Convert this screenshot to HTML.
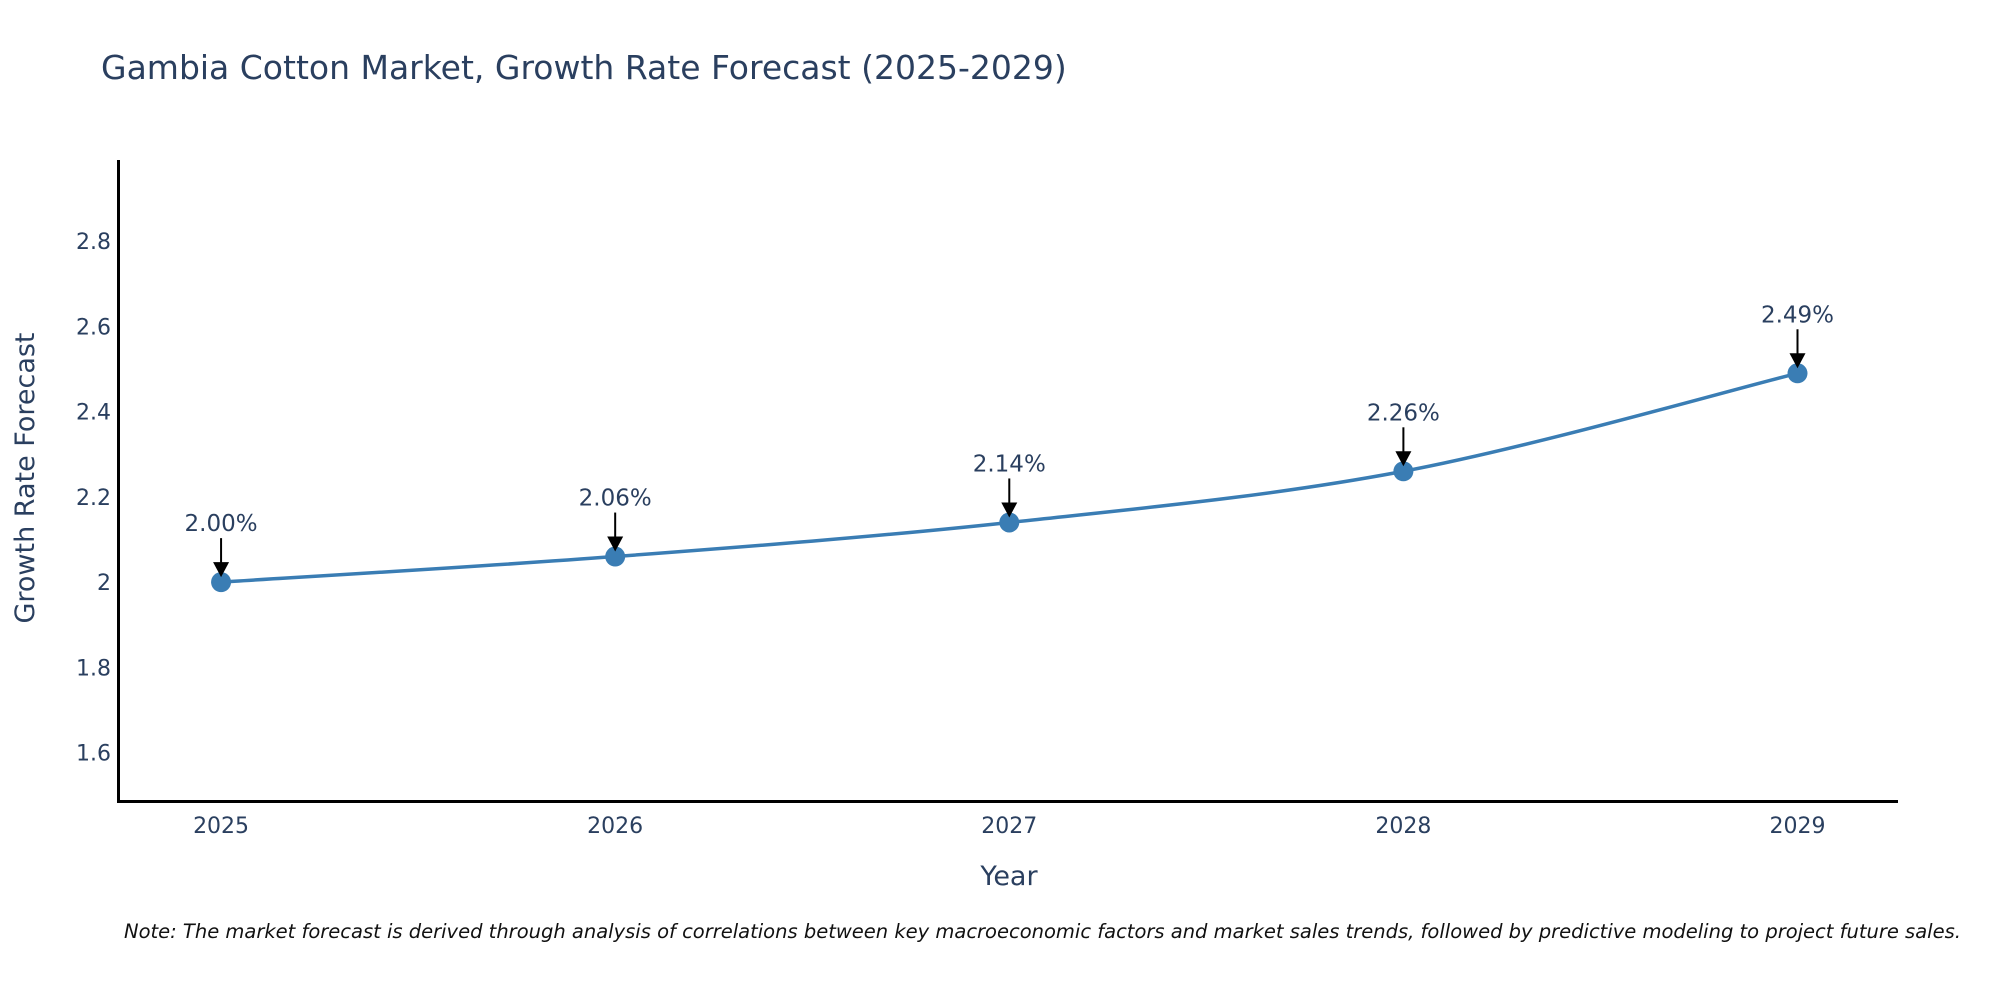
<!DOCTYPE html>
<html><head><meta charset="utf-8"><style>
body{margin:0;background:#fff;width:2000px;height:1000px;overflow:hidden;font-family:"DejaVu Sans",sans-serif}
</style></head><body>
<svg id="chart" width="2000" height="1000" xmlns="http://www.w3.org/2000/svg" style="font-family:'DejaVu Sans',sans-serif">
<text x="101" y="79" font-size="33" fill="#2a3f5f">Gambia Cotton Market, Growth Rate Forecast (2025-2029)</text>
<g id="yticks"></g>
<g id="xticks"></g>
<line x1="118.5" y1="160" x2="118.5" y2="802" stroke="#000" stroke-width="3"/>
<line x1="117" y1="801.5" x2="1898" y2="801.5" stroke="#000" stroke-width="3"/>
<path id="series-line" fill="none" stroke="#3a7db4" stroke-width="3.5"/>
<g id="points"></g>
<g id="annots"></g>
<text x="1009" y="885" font-size="27" fill="#2a3f5f" text-anchor="middle">Year</text>
<text transform="translate(34,478) rotate(-90)" font-size="27" fill="#2a3f5f" text-anchor="middle">Growth Rate Forecast</text>
<text x="124" y="938" font-size="19.5" font-style="italic" fill="#111">Note: The market forecast is derived through analysis of correlations between key macroeconomic factors and market sales trends, followed by predictive modeling to project future sales.</text>
</svg>
<script>
const years = [2025, 2026, 2027, 2028, 2029];
const values = [2.00, 2.06, 2.14, 2.26, 2.49];
const labels = ["2.00%", "2.06%", "2.14%", "2.26%", "2.49%"];
const yTickValues = [1.6, 1.8, 2, 2.2, 2.4, 2.6, 2.8];
const yTickLabels = ["1.6", "1.8", "2", "2.2", "2.4", "2.6", "2.8"];

const NS = "http://www.w3.org/2000/svg";
const yMin = 1.4865, yMax = 2.988, pTop = 161, pBot = 801;
const xMin = 2024.74, xMax = 2029.255, pL = 118.6, pR = 1898;
function xs(v){return pL + (v - xMin) / (xMax - xMin) * (pR - pL);}
function ys(v){return pBot - (v - yMin) / (yMax - yMin) * (pBot - pTop);}
function mk(tag, attrs){const e = document.createElementNS(NS, tag); for (const k in attrs) e.setAttribute(k, attrs[k]); return e;}

const yt = document.getElementById('yticks');
yTickValues.forEach((v, i) => {
  const t = mk('text', {x: 111, y: ys(v) + 8, 'font-size': 22, fill: '#2a3f5f', 'text-anchor': 'end'});
  
  
  t.textContent = yTickLabels[i];
  yt.appendChild(t);
});
const xt = document.getElementById('xticks');
years.forEach(y => {
  const t = mk('text', {x: xs(y), y: 833, 'font-size': 22, fill: '#2a3f5f', 'text-anchor': 'middle'});
  
  
  t.textContent = String(y);
  xt.appendChild(t);
});

const pts = years.map((y, i) => [xs(y), ys(values[i])]);
let d = `M${pts[0][0]},${pts[0][1]}`;
for (let i = 0; i < pts.length - 1; i++) {
  const p0 = pts[Math.max(i - 1, 0)], p1 = pts[i], p2 = pts[i + 1], p3 = pts[Math.min(i + 2, pts.length - 1)];
  const c1 = [p1[0] + (p2[0] - p0[0]) / 6, p1[1] + (p2[1] - p0[1]) / 6];
  const c2 = [p2[0] - (p3[0] - p1[0]) / 6, p2[1] - (p3[1] - p1[1]) / 6];
  d += ` C${c1[0]},${c1[1]} ${c2[0]},${c2[1]} ${p2[0]},${p2[1]}`;
}
document.getElementById('series-line').setAttribute('d', d);

const pg = document.getElementById('points');
const ag = document.getElementById('annots');
pts.forEach((p, i) => {
  const c = mk('circle', {cx: p[0], cy: p[1], r: 10, fill: '#3a7db4'});
  
  
  pg.appendChild(c);
  const l = mk('line', {x1: p[0], y1: p[1] - 44, x2: p[0], y2: p[1] - 14, stroke: '#000', 'stroke-width': 2});
  
  
  ag.appendChild(l);
  const h = mk('path', {d: `M${p[0] - 8},${p[1] - 20} L${p[0] + 8},${p[1] - 20} L${p[0]},${p[1] - 5} Z`, fill: '#000'});
  
  
  ag.appendChild(h);
  const t = mk('text', {x: p[0], y: p[1] - 51, 'font-size': 23, fill: '#2a3f5f', 'text-anchor': 'middle'});
  
  
  t.textContent = labels[i];
  ag.appendChild(t);
});
</script>
</body></html>
